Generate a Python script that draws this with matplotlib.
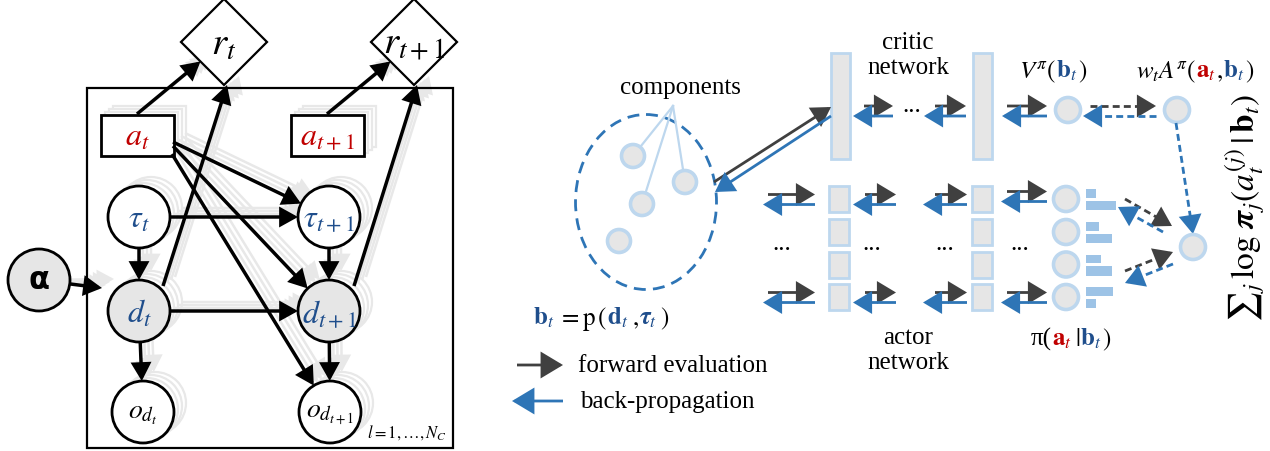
import numpy as np
import matplotlib.pyplot as plt
from matplotlib.patches import Circle, Rectangle, Polygon, Ellipse, FancyArrowPatch

plt.rcParams['font.family'] = ['Liberation Serif', 'DejaVu Serif']
plt.rcParams['mathtext.fontset'] = 'stix'

DARK = '#404040'
BLUE = '#2E75B6'
LBLUE = '#BDD7EE'
BAR = '#9DC3E6'
GRAY = '#E6E6E6'
RED = '#C00000'
NAVY = '#1F4E8C'
GHOST = '#E8E8E8'

# ---- content ----
node_names = ['a_t', 'a_t1', 'tau_t', 'tau_t1', 'd_t', 'd_t1', 'o_t', 'o_t1', 'r_t', 'r_t1']
node_labels = [r'$a_t$', r'$a_{t+1}$', r'$\tau_t$', r'$\tau_{t+1}$', r'$d_t$', r'$d_{t+1}$',
               r'$o_{d_t}$', r'$o_{d_{t+1}}$', r'$r_t$', r'$r_{t+1}$']
node_colors = [RED, RED, NAVY, NAVY, NAVY, NAVY, 'black', 'black', 'black', 'black']
node_shapes = ['rect', 'rect', 'circle', 'circle', 'circle', 'circle', 'circle', 'circle', 'diamond', 'diamond']
observed = ['d_t', 'd_t1']
edges = [('a_t', 'r_t'), ('a_t1', 'r_t1'), ('d_t', 'r_t'), ('d_t1', 'r_t1'),
         ('a_t', 'tau_t1'), ('a_t', 'd_t1'), ('a_t', 'o_t1'),
         ('tau_t', 'tau_t1'), ('tau_t', 'd_t'), ('d_t', 'd_t1'), ('tau_t1', 'd_t1'),
         ('d_t', 'o_t'), ('d_t1', 'o_t1')]
plate_label = r'$l=1,\ldots,N_C$'

policy_probs = [[0.33, 1.00], [0.43, 0.87], [0.50, 0.87], [0.90, 0.33]]

# ---- layout (pixel units) ----
pos = {'a_t': (137, 136), 'a_t1': (327, 136), 'tau_t': (139, 218), 'tau_t1': (329, 218),
       'd_t': (139, 312), 'd_t1': (329, 312), 'o_t': (143, 413), 'o_t1': (330, 413),
       'r_t': (224, 43), 'r_t1': (414, 43)}
shape = dict(zip(node_names, node_shapes))
R, HW, HH, S = 31, 36.5, 20.5, 43
# anchor offsets for edges that do not run centre to centre
src_off = {('a_t', 'r_t'): (0, -21), ('a_t1', 'r_t1'): (0, -21),
           ('d_t', 'r_t'): (24, -25), ('d_t1', 'r_t1'): (25, -25),
           ('a_t', 'tau_t1'): (36, 7), ('a_t', 'd_t1'): (36, 11), ('a_t', 'o_t1'): (35, 19)}
dst_off = {('d_t', 'r_t'): (3, 43), ('d_t1', 'r_t1'): (3, 43)}

fig = plt.figure(figsize=(12.7, 4.52), dpi=100)
ax = fig.add_axes([0, 0, 1, 1])
ax.set_xlim(0, 1270)
ax.set_ylim(452, 0)
ax.axis('off')


def arrow(p0, p1, color, lw=2.0, ms=18, hl=0.6, hw=0.36, z=3):
    ax.add_patch(FancyArrowPatch(p0, p1, arrowstyle=f'-|>,head_length={hl},head_width={hw}',
                                 mutation_scale=ms, color=color, lw=lw, shrinkA=0, shrinkB=0,
                                 zorder=z, joinstyle='miter', capstyle='butt'))


def dashed_arrow(p0, p1, color):
    p0, p1 = np.array(p0, float), np.array(p1, float)
    u = (p1 - p0) / np.linalg.norm(p1 - p0)
    e = p1 - u * 8
    ax.plot([p0[0], e[0]], [p0[1], e[1]], color=color, lw=2, ls=(0, (2.5, 1.5)), zorder=3)
    arrow(p1 - u * 13, p1, color)


def clip(name, frm, g):
    cx, cy = pos[name][0] + g[0], pos[name][1] + g[1]
    dx, dy = frm[0] - cx, frm[1] - cy
    k = shape[name]
    if k == 'circle':
        t = R / np.hypot(dx, dy)
    elif k == 'rect':
        t = min(HW / abs(dx) if dx else np.inf, HH / abs(dy) if dy else np.inf)
    else:
        t = S / (abs(dx) + abs(dy))
    return (cx + t * dx, cy + t * dy)


def draw_model(g, ghost):
    ec = GHOST if ghost else 'black'
    z = 1 if ghost else 4
    lw = 1.6 if ghost else 2
    for name, lab, col in zip(node_names, node_labels, node_colors):
        if ghost and name.startswith('r'):
            continue
        x, y = pos[name][0] + g[0], pos[name][1] + g[1]
        k = shape[name]
        if k == 'circle':
            fc = GRAY if (name in observed and not ghost) else 'white'
            p = Circle((x, y), R, fc=fc, ec=ec, lw=lw, zorder=z)
        elif k == 'rect':
            p = Rectangle((x - HW, y - HH), 2 * HW, 2 * HH, fc='white', ec=ec, lw=lw, zorder=z)
        else:
            p = Polygon([(x, y - S), (x + S, y), (x, y + S), (x - S, y)], closed=True,
                        fc='white', ec=ec, lw=1.6, zorder=z)
        ax.add_patch(p)
        if not ghost:
            size = 28 if k == 'diamond' else (20 if name.startswith('o') else 23)
            ax.text(x, y + 2, lab, color=col, fontsize=size, ha='center', va='center', zorder=6)
    for s, d in edges:
        cs = (pos[s][0] + g[0], pos[s][1] + g[1])
        cd = (pos[d][0] + g[0], pos[d][1] + g[1])
        p0 = (cs[0] + src_off[(s, d)][0], cs[1] + src_off[(s, d)][1]) if (s, d) in src_off else None
        p1 = (cd[0] + dst_off[(s, d)][0], cd[1] + dst_off[(s, d)][1]) if (s, d) in dst_off else None
        if p0 is None:
            p0 = clip(s, p1 if p1 is not None else cd, g)
        if p1 is None:
            p1 = clip(d, p0, g)
        arrow(p0, p1, ec, lw=1.8 if ghost else 2.5, ms=15, hl=0.65, hw=0.36, z=z + 1)
    # alpha -> plate
    a0 = (39, 281)
    tgt = (102 + g[0], 289 + g[1])
    v = np.array(tgt) - np.array(a0)
    st = np.array(a0) + R * v / np.linalg.norm(v)
    arrow(st, tgt, ec, lw=1.8 if ghost else 2.5, ms=15, hl=0.65, hw=0.36, z=z + 1)


# ---- left panel ----
for g in [(12, -9), (8, -6), (4, -3)]:
    draw_model(g, True)
ax.add_patch(Rectangle((87, 89), 366, 360, fc='none', ec='black', lw=1.6, zorder=2))
draw_model((0, 0), False)
ax.add_patch(Circle((39, 281), R, fc=GRAY, ec='black', lw=2, zorder=4))
ax.text(39, 281, 'α', family='DejaVu Sans', fontweight='bold', fontsize=22,
        ha='center', va='center', zorder=6)
ax.text(447, 433, plate_label, fontsize=12, ha='right', va='center')


def rich(x, y, parts, size, ha='center'):
    r = fig.canvas.get_renderer()
    objs, widths = [], []
    for s, c in parts:
        t = ax.text(0, y, s, color=c, fontsize=size, va='baseline', ha='left')
        objs.append(t)
        widths.append(t.get_window_extent(r).width)
    x0 = x - sum(widths) / 2 if ha == 'center' else x
    for t, w in zip(objs, widths):
        t.set_x(x0)
        x0 += w


# ---- components ----
ax.add_patch(Ellipse((646, 203), 141, 175, fc='none', ec=BLUE, lw=2, ls=(0, (4.3, 2.6))))
comp = [(633, 157), (685, 183), (642, 205), (619, 242)]
for cx, cy in comp[:3]:
    v = np.array([673 - cx, 107 - cy], float)
    e = np.array([cx, cy]) + 12 * v / np.linalg.norm(v)
    ax.plot([673, e[0]], [107, e[1]], color=LBLUE, lw=1.6, zorder=2)
for cx, cy in comp:
    ax.add_patch(Circle((cx, cy), 11.5, fc=GRAY, ec=LBLUE, lw=2.6, zorder=3))
ax.text(680, 88, 'components', fontsize=18, ha='center', va='center')
rich(601, 325, [(r'$\mathbf{b}_t$', NAVY), (r'$\,=\mathrm{p}\,($', 'black'), (r'$\mathbf{d}_t$', NAVY),
                (r'$\,,$', 'black'), (r'$\boldsymbol{\tau}_t$', NAVY), (r'$\,)$', 'black')], 18)

# ---- critic network ----
for cx in [840, 982]:
    ax.add_patch(Rectangle((cx - 9.5, 54), 19, 106, fc=GRAY, ec=LBLUE, lw=2, zorder=3))
ax.text(908, 43, 'critic', fontsize=18, ha='center', va='center')
ax.text(908, 68, 'network', fontsize=18, ha='center', va='center')
arrow((714, 183), (831, 108), DARK)
arrow((831, 117), (715, 193), BLUE)


def pair(xl, xr, y, inset):
    arrow((xl + inset, y - 5), (xr, y - 5), DARK)
    arrow((xr, y + 5), (xl, y + 5), BLUE)


pair(853, 893, 112, 11)
pair(924, 966, 112, 11)
pair(1002, 1047, 112, 5)
ax.text(912, 106, '...', fontsize=18, ha='center', va='center')
ax.add_patch(Circle((1068, 111), 12.5, fc=GRAY, ec=LBLUE, lw=2.6, zorder=3))
ax.add_patch(Circle((1177, 111), 12.5, fc=GRAY, ec=LBLUE, lw=2.6, zorder=3))
dashed_arrow((1090, 107), (1156, 107), DARK)
dashed_arrow((1156, 117), (1083, 117), BLUE)
dashed_arrow((1176, 124), (1193, 235), BLUE)
rich(1053, 78, [(r'$V^{\pi}($', 'black'), (r'$\mathbf{b}_t$', NAVY), (r'$)$', 'black')], 18)
rich(1195, 78, [(r'$w_t A^{\pi}($', 'black'), (r'$\mathbf{a}_t$', RED), (r'$,$', 'black'),
                (r'$\mathbf{b}_t$', NAVY), (r'$)$', 'black')], 18)

# ---- actor network ----
rows = [200, 233, 265.5, 298]
for cx in [839, 982]:
    for ry in rows:
        ax.add_patch(Rectangle((cx - 10, ry - 13), 20, 26, fc=GRAY, ec=LBLUE, lw=2, zorder=3))
for ry in [rows[0], rows[-1]]:
    yc = ry + 0.5
    pair(763, 815, yc, 5)
    pair(853, 896, yc, 12)
    pair(923, 967, yc, 12)
    pair(1001, 1047, yc - (3 if ry == rows[0] else 0), 6)
for dx in [782, 872, 945, 1020]:
    ax.text(dx, 244, '...', fontsize=18, ha='center', va='center')
for ry, pr in zip(rows, policy_probs):
    ax.add_patch(Circle((1066, ry), 12.5, fc=GRAY, ec=LBLUE, lw=2.6, zorder=3))
    ax.add_patch(Rectangle((1086, ry - 10), 30 * pr[0], 8.5, fc=BAR, ec='none', zorder=3))
    ax.add_patch(Rectangle((1086, ry + 1.5), 30 * pr[1], 9.5, fc=BAR, ec='none', zorder=3))
ax.text(908, 338, 'actor', fontsize=18, ha='center', va='center')
ax.text(908, 363, 'network', fontsize=18, ha='center', va='center')
rich(1071, 346, [('π(', 'black'), (r'$\mathbf{a}_t$', RED), (r'$\,|\,$', 'black'),
                 (r'$\mathbf{b}_t$', NAVY), (r'$)$', 'black')], 18)

# sum node
ax.add_patch(Circle((1193, 248), 12.5, fc=GRAY, ec=LBLUE, lw=2.6, zorder=3))
dashed_arrow((1125, 200), (1172, 227), DARK)
dashed_arrow((1163, 233), (1118, 208), BLUE)
dashed_arrow((1125, 272), (1173, 253), DARK)
dashed_arrow((1173, 265), (1125, 284), BLUE)
ax.text(1245, 208, r'${\sum}_j\, \log\, \boldsymbol{\pi}_j(a_t^{(j)}\,|\,\mathbf{b}_t)$',
        fontsize=24, rotation=90, ha='center', va='center')

# ---- legend ----
arrow((517, 366), (563, 366), DARK, ms=22)
arrow((563, 402), (512, 402), BLUE, ms=22)
ax.text(578, 366, 'forward evaluation', fontsize=18, ha='left', va='center')
ax.text(580, 402, 'back-propagation', fontsize=18, ha='left', va='center')

fig.savefig('out.png', dpi=100)
